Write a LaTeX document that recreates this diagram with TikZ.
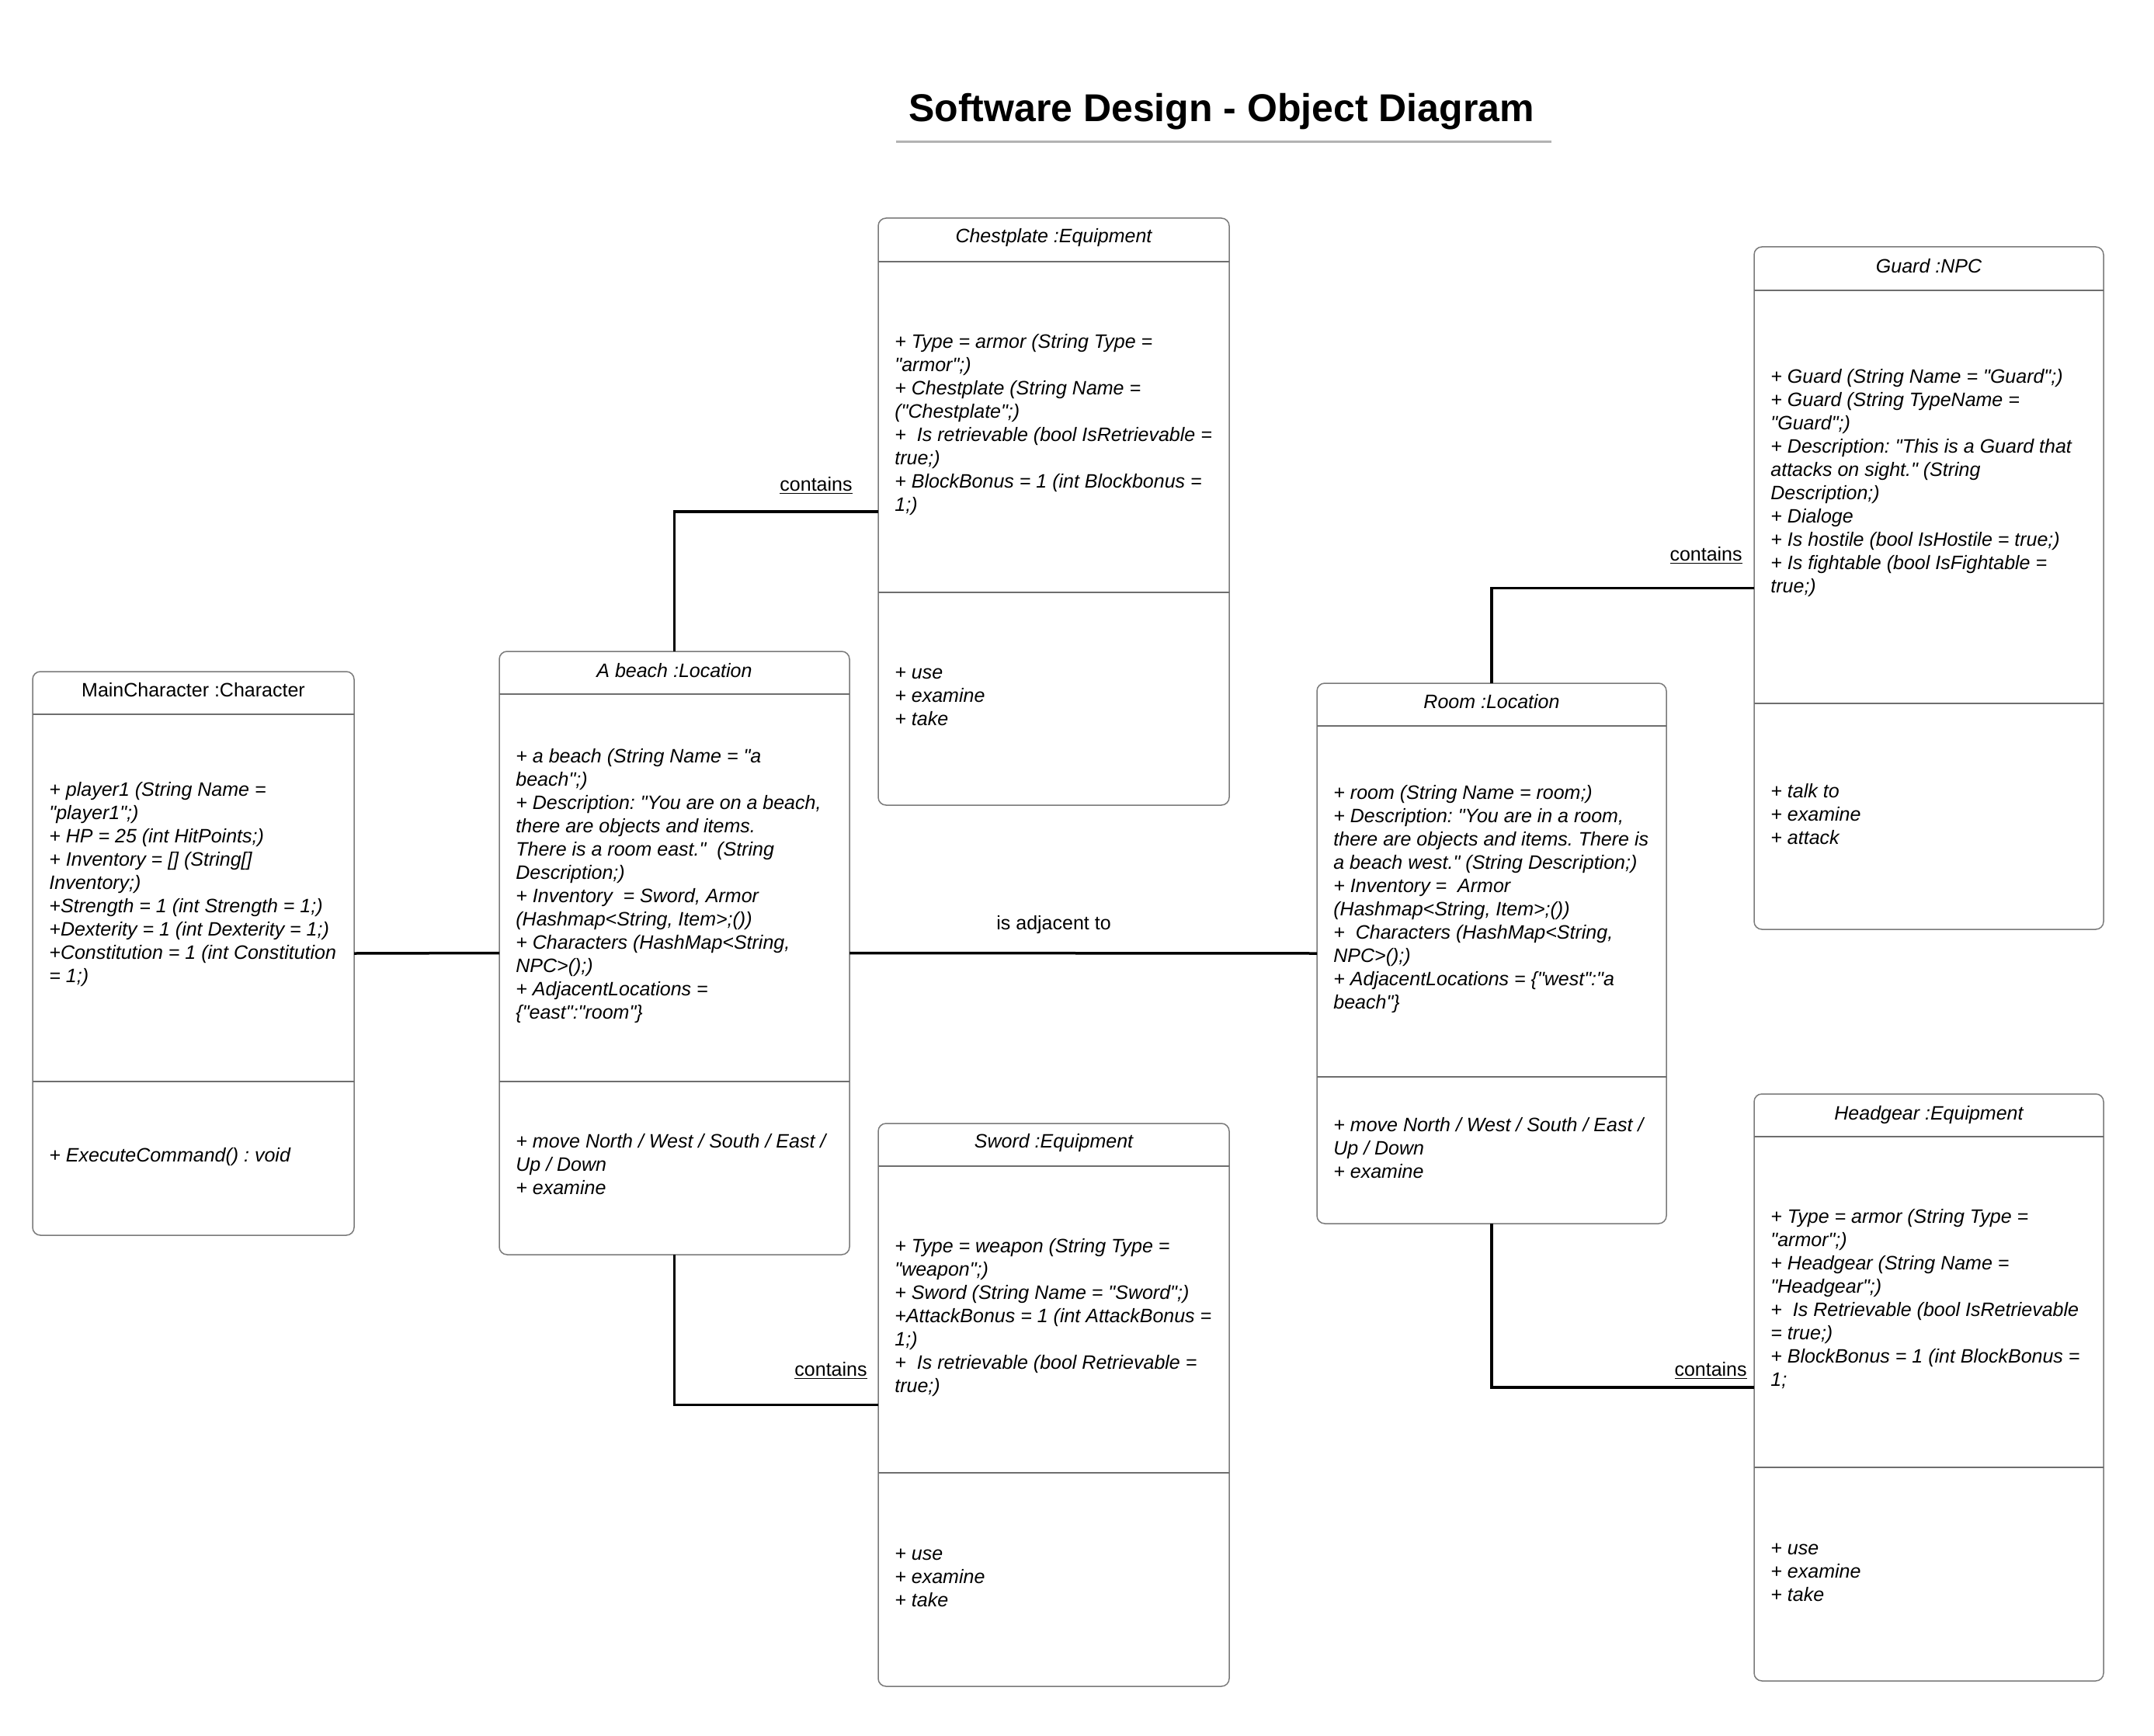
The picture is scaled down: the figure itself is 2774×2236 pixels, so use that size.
\documentclass[tikz,border=0pt]{standalone}
\usepackage{fontspec}
\setmainfont{Liberation Sans}[Ligatures=TeXOff]
\usetikzlibrary{fit}
\definecolor{boxline}{HTML}{7A7A7A}
\definecolor{divline}{HTML}{6E6E6E}
\definecolor{titleline}{HTML}{B3B3B3}
\frenchspacing
\begin{document}
\begin{tikzpicture}[x=0.5pt,y=-0.5pt,
  objbox/.style={draw=boxline, line width=0.75pt, rounded corners=5pt, inner sep=0pt, outer sep=0pt},
  sep/.style={draw=divline, line width=0.8pt},
  conn/.style={draw=black, line width=1.75pt},
  head/.style={font={\fontsize{12.5}{15}\selectfont\itshape\frenchspacing}, anchor=base, inner sep=0pt},
  headup/.style={font={\fontsize{12.5}{15}\selectfont\frenchspacing}, anchor=base, inner sep=0pt},
  attr/.style={font={\fontsize{12.5}{15}\selectfont\itshape\frenchspacing}, align=left, anchor=north west, inner sep=0pt},
  lbl/.style={font={\fontsize{12.5}{15}\selectfont}, inner sep=0pt},
]
\fill[white] (0,0) rectangle (2774,2236);
\useasboundingbox (0,0) rectangle (2774,2236);

% Title
\node[font={\fontsize{25}{30}\selectfont\bfseries}, anchor=base, inner sep=0pt] (title) at (1573,157) {Software Design - Object Diagram};
\coordinate (tl1) at (1154,183);
\coordinate (tl2) at (1998,183);
\draw[titleline, line width=1.5pt] (tl1) -- (tl2);

% Boxes
\node[objbox, fit={(42,865) (456,1591)}] (mc) {};
\node[objbox, fit={(643,839) (1094,1616)}] (beach) {};
\node[objbox, fit={(1131,281) (1583,1037)}] (chest) {};
\node[objbox, fit={(1131,1447) (1583,2172)}] (sword) {};
\node[objbox, fit={(1696,880) (2146,1576)}] (room) {};
\node[objbox, fit={(2259,318) (2709,1197)}] (guard) {};
\node[objbox, fit={(2259,1409) (2709,2165)}] (head) {};

% Dividers
\draw[sep] (mc.west |- 0,920) -- (mc.east |- 0,920);
\draw[sep] (mc.west |- 0,1393) -- (mc.east |- 0,1393);
\draw[sep] (beach.west |- 0,894) -- (beach.east |- 0,894);
\draw[sep] (beach.west |- 0,1393) -- (beach.east |- 0,1393);
\draw[sep] (chest.west |- 0,337) -- (chest.east |- 0,337);
\draw[sep] (chest.west |- 0,763) -- (chest.east |- 0,763);
\draw[sep] (sword.west |- 0,1502) -- (sword.east |- 0,1502);
\draw[sep] (sword.west |- 0,1897) -- (sword.east |- 0,1897);
\draw[sep] (room.west |- 0,935) -- (room.east |- 0,935);
\draw[sep] (room.west |- 0,1387) -- (room.east |- 0,1387);
\draw[sep] (guard.west |- 0,374) -- (guard.east |- 0,374);
\draw[sep] (guard.west |- 0,906) -- (guard.east |- 0,906);
\draw[sep] (head.west |- 0,1464) -- (head.east |- 0,1464);
\draw[sep] (head.west |- 0,1890) -- (head.east |- 0,1890);

% Headers
\node[headup] (mcH) at (249,897) {MainCharacter :Character};
\node[head] (beachH) at (868.5,872) {A beach :Location};
\node[head] (chestH) at (1357,313) {Chestplate :Equipment};
\node[head] (swordH) at (1357,1478) {Sword :Equipment};
\node[head] (roomH) at (1921,912) {Room :Location};
\node[head] (guardH) at (2484,352) {Guard :NPC};
\node[head] (headH) at (2484,1442) {Headgear :Equipment};

% Attributes
\node[attr] (mcA) at (63,1004) {\strut + player1 (String Name =\\
"player1";)\\
+ HP = 25 (int HitPoints;)\\
+ Inventory = [] (String[]\\
Inventory;)\\
+Strength = 1 (int Strength = 1;)\\
+Dexterity = 1 (int Dexterity = 1;)\\
+Constitution = 1 (int Constitution\\
= 1;)};
\node[attr] (mcM) at (63,1475) {\strut + ExecuteCommand() : void};

\node[attr] (beachA) at (664,961) {\strut + a beach (String Name = "a\\
beach";)\\
+ Description: "You are on a beach,\\
there are objects and items.\\
There is a room east."\ \ (String\\
Description;)\\
+ Inventory\ \ = Sword, Armor\\
(Hashmap<String, Item>;())\\
+ Characters (HashMap<String,\\
NPC>();)\\
+ AdjacentLocations =\\
\{"east":"room"\}};
\node[attr] (beachM) at (664,1457) {\strut + move North / West / South / East /\\
Up / Down\\
+ examine};

\node[attr] (chestA) at (1152,427) {\strut + Type = armor (String Type =\\
"armor";)\\
+ Chestplate (String Name =\\
("Chestplate";)\\
+\ \ Is retrievable (bool IsRetrievable =\\
true;)\\
+ BlockBonus = 1 (int Blockbonus =\\
1;)};
\node[attr] (chestM) at (1152,853) {\strut + use\\
+ examine\\
+ take};

\node[attr] (swordA) at (1152,1592) {\strut + Type = weapon (String Type =\\
"weapon";)\\
+ Sword (String Name = "Sword";)\\
+AttackBonus = 1 (int AttackBonus =\\
1;)\\
+\ \ Is retrievable (bool Retrievable =\\
true;)};
\node[attr] (swordM) at (1152,1988) {\strut + use\\
+ examine\\
+ take};

\node[attr] (roomA) at (1717,1008) {\strut + room (String Name = room;)\\
+ Description: "You are in a room,\\
there are objects and items. There is\\
a beach west." (String Description;)\\
+ Inventory =\ \ Armor\\
(Hashmap<String, Item>;())\\
+\ \ Characters (HashMap<String,\\
NPC>();)\\
+ AdjacentLocations = \{"west":"a\\
beach"\}};
\node[attr] (roomM) at (1717,1436) {\strut + move North / West / South / East /\\
Up / Down\\
+ examine};

\node[attr] (guardA) at (2280,472) {\strut + Guard (String Name = "Guard";)\\
+ Guard (String TypeName =\\
"Guard";)\\
+ Description: "This is a Guard that\\
attacks on sight." (String\\
Description;)\\
+ Dialoge\\
+ Is hostile (bool IsHostile = true;)\\
+ Is fightable (bool IsFightable =\\
true;)};
\node[attr] (guardM) at (2280,1006) {\strut + talk to\\
+ examine\\
+ attack};

\node[attr] (headA) at (2280,1554) {\strut + Type = armor (String Type =\\
"armor";)\\
+ Headgear (String Name =\\
"Headgear";)\\
+\ \ Is Retrievable (bool IsRetrievable\\
= true;)\\
+ BlockBonus = 1 (int BlockBonus =\\
1;};
\node[attr] (headM) at (2280,1981) {\strut + use\\
+ examine\\
+ take};

% Connectors
\draw[conn] (mc.east) -- (beach.west);
\draw[conn] (beach.east) -- (room.west);
\draw[conn] (beach.north) |- (chest.west);
\draw[conn] (beach.south) |- (sword.west);
\draw[conn] (room.north) |- (guard.west);
\draw[conn] (room.south) |- (head.west);

% Connector labels
\node[lbl, anchor=base west] (adjL) at (1283,1197) {is adjacent to};
\node[lbl, anchor=base east] (c1) at (1098,632) {\underline{contains}};
\node[lbl, anchor=base east] (c2) at (1117,1772) {\underline{contains}};
\node[lbl, anchor=base east] (c3) at (2244,722) {\underline{contains}};
\node[lbl, anchor=base east] (c4) at (2250,1772) {\underline{contains}};
\end{tikzpicture}
\end{document}
